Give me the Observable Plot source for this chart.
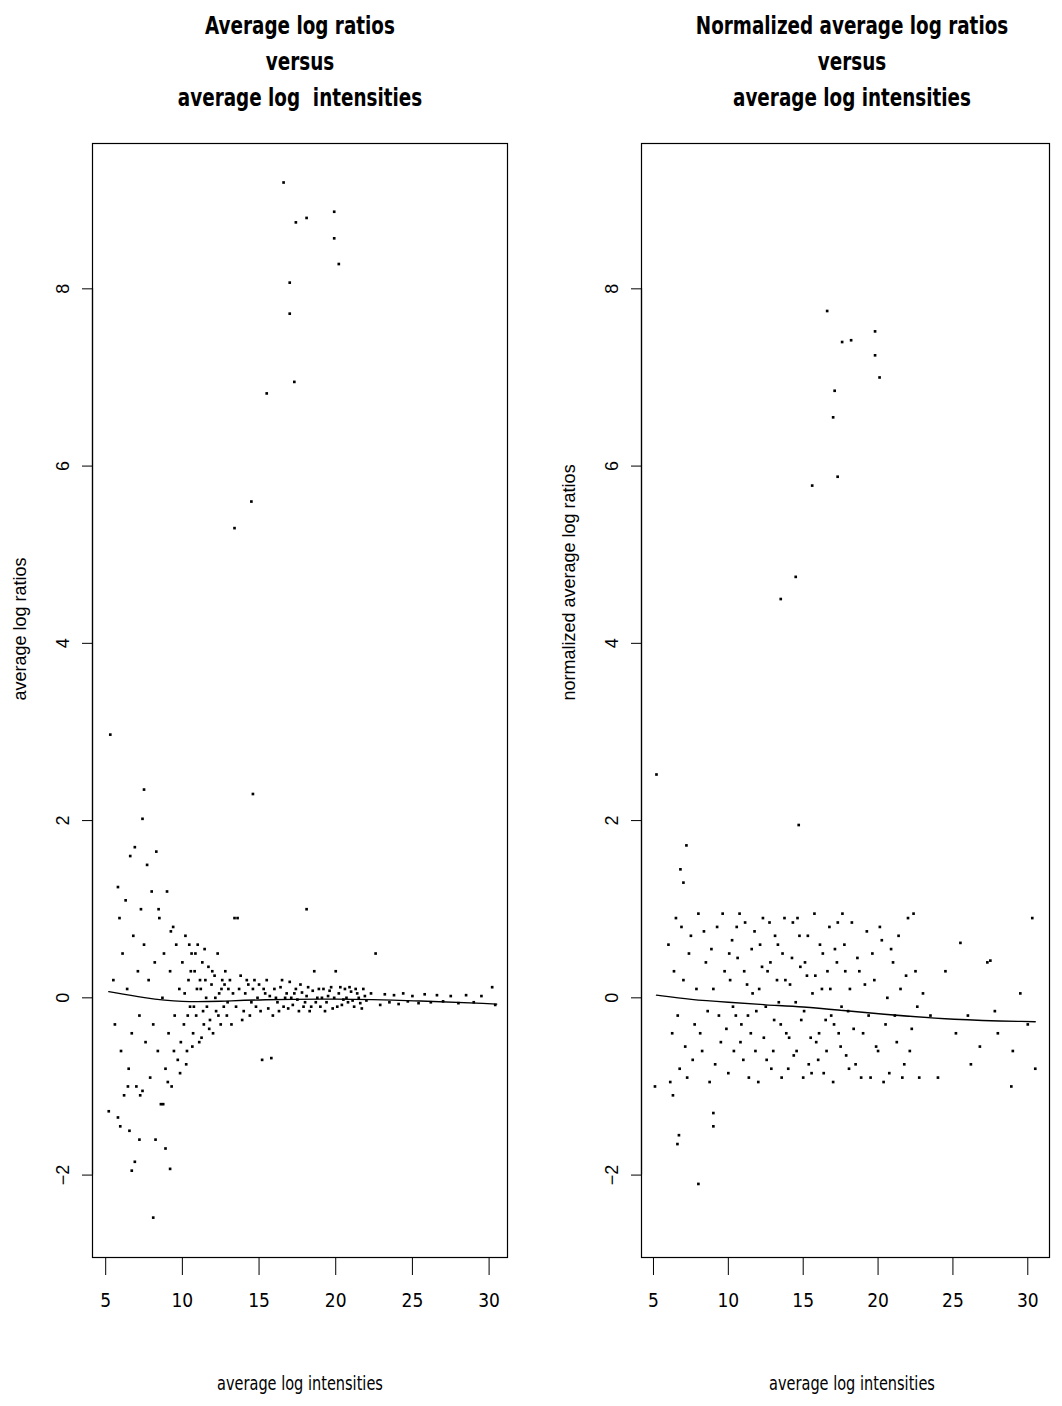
<!DOCTYPE html>
<html>
<head>
<meta charset="utf-8">
<script src="https://cdn.jsdelivr.net/npm/d3@7"></script>
<script src="https://cdn.jsdelivr.net/npm/@observablehq/plot@0.6"></script>
<style>
  body { margin: 0; background: #fff; }
  #wrap { position: relative; width: 1062px; height: 1406px; }
  .panel { position: absolute; top: 0; }
  .title { position: absolute; top: 8px; text-align: center; font-family: "Liberation Sans Narrow", "DejaVu Sans Condensed", sans-serif; font-stretch: condensed; font-weight: bold; font-size: 24px; line-height: 36px; transform: scaleX(0.85); }
  .xlab { position: absolute; top: 1372px; text-align: center; font-family: "Liberation Sans Narrow", "DejaVu Sans Condensed", sans-serif; font-stretch: condensed; font-size: 19px; transform: scaleX(0.85); }
</style>
</head>
<body>
<div id="wrap"></div>
<script>
var xTicks = [5, 10, 15, 20, 25, 30];
var yTicks = [-2, 0, 2, 4, 6, 8];

var leftOutliers = [[16.6,9.2],[17.4,8.75],[18.1,8.8],[19.9,8.87],[19.9,8.57],[20.2,8.28],[17.0,8.07],[17.0,7.72],[17.3,6.95],[15.5,6.82],[14.5,5.6],[13.4,5.3],[5.3,2.97],[7.5,2.35],[14.6,2.3],[7.4,2.02],[18.1,1.0],[8.1,-2.48],[9.2,-1.93],[6.7,-1.95],[6.9,-1.85],[5.2,-1.28],[5.8,-1.35],[8.9,-1.7],[7.2,-1.6]];
var leftBand = [[5.5,0.2],[5.6,-0.3],[5.8,1.25],[5.9,0.9],[6.0,-0.6],[6.1,0.5],[6.2,-1.1],[6.3,1.1],[6.4,0.1],[6.5,-0.8],[6.6,1.6],[6.7,-0.4],[6.8,0.7],[6.9,1.7],[7.0,-1.0],[7.1,0.3],[7.2,-0.2],[7.3,1.0],[7.4,-1.05],[7.5,0.6],[7.6,-0.5],[7.7,1.5],[7.8,0.2],[7.9,-0.9],[8.0,1.2],[8.1,-0.3],[8.2,0.4],[8.3,1.65],[8.4,-0.6],[8.5,0.9],[8.6,-1.2],[8.7,0.0],[8.8,0.5],[8.9,-0.8],[9.0,1.2],[9.1,-0.4],[9.2,0.3],[9.3,-1.0],[9.4,0.8],[9.5,-0.2],[9.6,0.6],[9.7,-0.7],[9.8,0.1],[9.9,-0.5],[10.0,0.4],[10.1,-0.3],[10.2,0.7],[10.3,-0.6],[10.4,0.2],[10.5,-0.1],[10.6,0.5],[10.7,-0.4],[10.8,0.3],[10.9,-0.2],[11.0,0.6],[11.1,-0.5],[11.2,0.1],[11.3,0.4],[11.4,-0.3],[11.5,0.2],[11.6,-0.1],[11.7,0.35],[11.8,-0.25],[11.9,0.15],[12.0,-0.4],[12.1,0.25],[12.2,-0.15],[12.3,0.5],[12.4,0.05],[12.5,-0.3],[12.6,0.2],[12.7,-0.1],[12.8,0.3],[12.9,-0.2],[13.0,0.1],[13.2,-0.3],[13.4,0.9],[13.6,0.9],[13.8,0.25],[14.0,-0.15],[14.2,0.2],[14.4,-0.2],[14.6,0.1],[14.8,-0.1],[15.0,0.15],[15.2,-0.7],[15.4,0.05],[15.6,-0.12],[15.8,-0.68],[16.0,0.1],[16.2,-0.05],[16.4,0.12],[16.6,-0.1],[16.8,0.05],[17.0,0.18],[17.2,-0.08],[17.4,0.1],[17.6,-0.15],[17.8,0.06],[18.0,-0.05],[18.2,0.12],[18.4,-0.1],[18.6,0.3],[18.8,0.0],[19.0,-0.1],[19.2,0.1],[19.4,-0.05],[19.6,0.08],[19.8,-0.12],[20.0,0.3],[20.2,0.05],[20.4,-0.08],[20.6,0.1],[20.8,-0.05],[21.0,0.07],[21.2,-0.1],[21.4,0.05],[21.6,-0.06],[21.8,0.1],[22.0,-0.03],[22.3,0.05],[22.6,0.5],[22.9,-0.08],[23.2,0.04],[23.5,-0.05],[23.8,0.03],[24.1,-0.07],[24.4,0.05],[24.7,-0.04],[25.0,0.02],[25.4,-0.06],[25.8,0.04],[26.2,-0.05],[26.6,0.03],[27.0,-0.04],[27.5,0.02],[28.0,-0.06],[28.5,0.03],[29.0,-0.05],[29.5,0.02],[30.2,0.12],[30.4,-0.08],
[10.15,0.05],[10.35,-0.2],[10.55,0.3],[10.75,-0.1],[10.95,0.1],[11.15,0.2],[11.35,-0.15],[11.55,0.0],[11.75,-0.35],[11.95,0.3],[12.15,0.0],[12.35,-0.2],[12.55,0.1],[12.75,0.15],[12.95,-0.05],[13.1,0.2],[13.3,0.05],[13.5,-0.1],[13.7,0.1],[13.9,-0.25],[14.1,0.05],[14.3,0.15],[14.5,-0.05],[14.7,0.2],[14.9,0.0],[15.1,-0.15],[15.3,0.1],[15.5,0.2],[15.7,0.02],[15.9,-0.2],[16.1,0.0],[16.3,-0.15],[16.5,0.2],[16.7,0.0],[16.9,-0.12],[17.1,0.0],[17.3,0.05],[17.5,-0.02],[17.7,0.15],[17.9,-0.1],[18.1,0.02],[18.3,-0.15],[18.5,0.08],[18.7,-0.05],[18.9,0.1],[19.1,0.0],[19.3,-0.15],[19.5,0.02],[19.7,0.12],[19.9,0.0],[20.1,-0.1],[20.3,0.12],[20.5,-0.02],[20.7,0.0],[20.9,0.12],[21.1,-0.03],[21.3,0.1],[21.5,0.0],[21.7,-0.12],[21.9,0.02],
[8.25,-1.6],[8.75,-1.2],[9.05,-0.95],[9.45,-0.6],[7.25,-1.1],[6.55,-1.5],[5.95,-1.45],[6.45,-1.0],[9.85,-0.85],[10.25,-0.75],[10.65,-0.55],[11.25,-0.45],[8.45,1.0],[9.25,0.75],[10.45,0.6],[10.85,0.5],[11.45,0.55]];
var leftCurve = [[5.2,0.07],[7.5,0.0],[10,-0.05],[12.5,-0.04],[15,-0.02],[20,-0.01],[25,-0.03],[30.5,-0.07]];

var rightOutliers = [[5.2,2.52],[7.2,1.72],[6.8,1.45],[7.0,1.3],[8.0,-2.1],[6.6,-1.65],[6.7,-1.55],[9.0,-1.45],[9.0,-1.3],[6.3,-1.1],[14.7,1.95],[13.5,4.5],[14.5,4.75],[15.6,5.78],[17.3,5.88],[17.0,6.55],[17.1,6.85],[16.6,7.75],[17.6,7.4],[18.2,7.42],[19.8,7.52],[19.8,7.25],[20.1,7.0],[30.3,0.9],[25.5,0.62],[27.3,0.4],[27.5,0.42],[28.9,-1.0],[26.2,-0.75],[30.5,-0.8],[5.1,-1.0],[29.5,0.05],[30.0,-0.3],[28.0,-0.4],[26.8,-0.55],[24.0,-0.9],[25.2,-0.4],[24.5,0.3],[23.5,-0.2],[26.0,-0.2],[27.8,-0.15],[29.0,-0.6]];
var rightCloud = [[6.0,0.6],[6.25,-0.4],[6.5,0.9],[6.75,-0.8],[7.0,0.2],[7.25,-0.9],[7.5,0.7],[7.75,-0.3],[8.0,0.95],[8.25,-0.6],[8.5,0.4],[8.75,-0.95],[9.0,0.1],[9.25,0.8],[9.5,-0.5],[9.75,0.3],[10.0,-0.85],[10.25,0.65],[10.5,-0.2],[10.75,0.95],[11.0,-0.7],[11.25,0.15],[11.5,-0.4],[11.75,0.75],[12.0,-0.95],[12.25,0.35],[12.5,-0.1],[12.75,0.85],[13.0,-0.6],[13.25,0.2],[13.5,-0.3],[13.75,0.9],[14.0,-0.8],[14.25,0.45],[14.5,-0.05],[14.75,0.7],[15.0,-0.9],[15.25,0.25],[15.5,-0.45],[15.75,0.95],[16.0,-0.7],[16.25,0.1],[16.5,-0.25],[16.75,0.8],[17.0,-0.95],[17.25,0.4],[17.5,-0.55],[17.75,0.6],[18.0,-0.15],[18.25,0.85],[18.5,-0.75],[18.75,0.3],[19.0,-0.4],[19.25,0.75],[19.5,-0.9],[19.75,0.2],[20.0,-0.6],[20.25,0.65],[20.5,-0.3],[20.75,-0.85],[21.0,0.4],[21.25,-0.5],[21.5,0.1],[21.75,-0.75],[22.0,0.9],[22.25,-0.35],[22.5,0.3],[22.75,-0.9],[23.0,0.05],
[6.12,-0.95],[6.37,0.3],[6.62,-0.2],[6.87,0.8],[7.12,-0.55],[7.37,0.5],[7.62,-0.7],[7.87,0.1],[8.12,-0.4],[8.37,0.75],[8.62,-0.15],[8.87,0.55],[9.12,-0.75],[9.37,-0.2],[9.62,0.95],[9.87,-0.35],[10.12,0.2],[10.37,-0.6],[10.62,0.45],[10.87,-0.3],[11.12,0.85],[11.37,-0.9],[11.62,0.05],[11.87,-0.15],[12.12,0.6],[12.37,-0.45],[12.62,0.3],[12.87,-0.8],[13.12,0.7],[13.37,-0.05],[13.62,0.5],[13.87,-0.4],[14.12,0.15],[14.37,-0.65],[14.62,0.9],[14.87,-0.25],[15.12,0.4],[15.37,-0.75],[15.62,0.05],[15.87,-0.5],[16.12,0.6],[16.37,-0.85],[16.62,0.3],[16.87,-0.2],[17.12,0.55],[17.37,-0.4],[17.62,0.95],[17.87,-0.65],[18.12,0.1],[18.37,-0.35],[18.62,0.45],[18.87,-0.9],[19.12,0.15],[19.37,-0.2],[19.62,0.5],[19.87,-0.55],[20.12,0.8],[20.37,-0.95],[20.62,0.0],[20.87,0.55],[21.12,-0.2],[21.37,0.7],[21.62,-0.9],[21.87,0.25],[22.12,-0.6],[22.37,0.95],[22.62,-0.1],
[10.06,0.5],[10.31,-0.1],[10.56,0.8],[10.81,-0.5],[11.06,0.3],[11.31,-0.2],[11.56,0.55],[11.81,-0.6],[12.06,0.1],[12.31,0.9],[12.56,-0.7],[12.81,0.4],[13.06,-0.25],[13.31,0.6],[13.56,-0.9],[13.81,0.2],[14.06,-0.45],[14.31,0.85],[14.56,-0.6],[14.81,0.35],[15.06,-0.15],[15.31,0.7],[15.56,-0.85],[15.81,0.25],[16.06,-0.4],[16.31,0.5],[16.56,-0.6],[16.81,0.1],[17.06,-0.3],[17.31,0.85],[17.56,-0.1],[17.81,0.3],[18.06,-0.8]];
var rightCurve = [[5.2,0.03],[7.5,-0.02],[10,-0.05],[12.5,-0.08],[15,-0.1],[17.5,-0.14],[20,-0.18],[25,-0.25],[30.5,-0.27]];

var narrow = "Liberation Sans Narrow, DejaVu Sans Condensed, sans-serif";
var plain = "Liberation Sans, Arial, sans-serif";

function panel(opts) {
  var pts = opts.outliers.concat(opts.cloud);
  return Plot.plot({
    width: opts.width, height: 1406,
    marginLeft: opts.ml, marginRight: opts.mr, marginTop: 143, marginBottom: 149,
    x: { domain: opts.xdom },
    y: { domain: [-2.93, 9.64] },
    style: { fontFamily: plain, fontSize: "18px", color: "#000", background: "#fff" },
    marks: [
      Plot.frame({ stroke: "#000", strokeWidth: 1.2 }),
      Plot.dot(pts, { x: function (d) { return d[0]; }, y: function (d) { return d[1]; }, r: 1.5, fill: "#000", stroke: null, symbol: "square" }),
      Plot.line(opts.curve, { x: function (d) { return d[0]; }, y: function (d) { return d[1]; }, curve: "basis", stroke: "#000", strokeWidth: 1.3 }),
      Plot.axisX(xTicks, { tickSize: 18, tickPadding: 18, label: null, fontSize: 19, fontFamily: narrow, fontStretch: "condensed", tickFormat: "d" }),
      Plot.ruleY([-2.93], { x1: 5, x2: 30, stroke: "#000", strokeWidth: 1.2 }),
      Plot.axisY(yTicks, { tickSize: 10, tickPadding: 14, tickRotate: -90, textAnchor: "middle", label: null, fontSize: 18, tickFormat: function (d) { return d < 0 ? "\u2212" + (-d) : String(d); } }),
      Plot.ruleX([opts.xdom[0]], { y1: -2, y2: 8, stroke: "#000", strokeWidth: 1.2 }),
      Plot.text([opts.ylabel], { frameAnchor: "left", dx: opts.ylabDx, rotate: -90, fontSize: 18, text: function (d) { return d; } })
    ]
  });
}

var wrap = document.getElementById("wrap");
var specs = [
  { left: 0, width: 531, ml: 92, mr: 24, xdom: [4.14, 31.2], outliers: leftOutliers, cloud: leftBand, curve: leftCurve,
    ylabel: "average log ratios", ylabDx: -72, title: "Average log ratios<br>versus<br>average log&nbsp; intensities", tcx: 300 },
  { left: 531, width: 531, ml: 110, mr: 13, xdom: [4.2, 31.45], outliers: rightOutliers, cloud: rightCloud, curve: rightCurve,
    ylabel: "normalized average log ratios", ylabDx: -72, title: "Normalized average log ratios<br>versus<br>average log intensities", tcx: 321 }
];
specs.forEach(function (s) {
  var div = document.createElement("div");
  div.className = "panel";
  div.style.left = s.left + "px";
  div.style.width = s.width + "px";
  div.appendChild(panel(s));
  var t = document.createElement("div");
  t.className = "title";
  t.style.left = (s.tcx - 200) + "px"; t.style.width = "400px";
  t.innerHTML = s.title;
  div.appendChild(t);
  var xl = document.createElement("div");
  xl.className = "xlab";
  xl.style.left = (s.tcx - 200) + "px"; xl.style.width = "400px";
  xl.textContent = "average log intensities";
  div.appendChild(xl);
  wrap.appendChild(div);
});
</script>
</body>
</html>
